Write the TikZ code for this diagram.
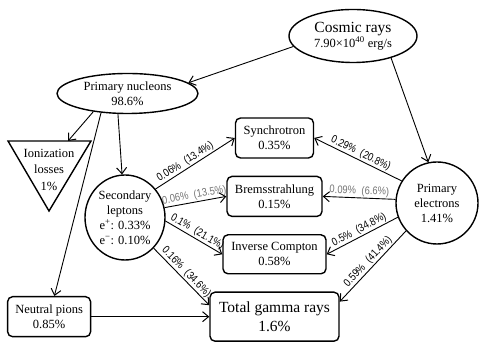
\documentclass[tikz,border=0pt]{standalone}
\usepackage{fontspec}
\setmainfont{Liberation Serif}
\newfontfamily\labfont[FakeStretch=0.85]{Liberation Sans}
\usetikzlibrary{shapes.geometric, arrows.meta, positioning}
\definecolor{labgray}{rgb}{0.45,0.45,0.45}

\begin{document}
\begin{tikzpicture}[
    x=1pt, y=1pt,
    node distance=17pt,
    box/.style={rectangle, rounded corners=5pt, draw, line width=1.4pt, minimum height=40pt, align=center, inner sep=2pt, font=\fontsize{12.5}{15}\selectfont},
    oval/.style={ellipse, draw, line width=1.4pt, align=center, inner sep=0pt, font=\fontsize{12.5}{15}\selectfont},
    flow/.style={draw, line width=0.9pt, -{Straight Barb[length=6pt,width=10pt,line width=1pt]}},
    lab/.style={font=\labfont\fontsize{11}{12}\selectfont, sloped, above, inner sep=1pt}
]
    \useasboundingbox (0,0) rectangle (485,344);

    \node[oval, minimum width=128pt, minimum height=53pt] (cosmic) at (353,308) {\fontsize{15.5}{17}\selectfont Cosmic rays\\7.90×10\textsuperscript{40} erg/s};
    \node[oval, minimum width=141pt, minimum height=40pt] (nucleons) at (127.5,250.5) {Primary nucleons\\98.6\%};
    \node[oval, minimum width=80pt, minimum height=85pt] (sec) at (125,126.5) {Secondary\\leptons\\e\textsuperscript{+}: 0.33\%\\e\textsuperscript{−}: 0.10\%};
    \node[oval, minimum width=82pt, minimum height=82pt] (electrons) at (437,141) {Primary\\electrons\\1.41\%};

    % ionization losses (triangle)
    \coordinate (ionL) at (8,203);
    \coordinate (ionR) at (91,203);
    \coordinate (ionB) at (49,133);
    \coordinate (iontop) at (68,203);
    \draw[line width=1.4pt, line join=miter] (ionL) -- (ionR) -- (ionB) -- cycle;
    \node[align=center, font=\fontsize{12.5}{16.5}\selectfont] (ion) at (49,174.5) {Ionization\\losses\\1\%};

    \node[box, minimum width=78pt] (synch) at (274.5,206) {Synchrotron\\0.35\%};
    \node[box, minimum width=95pt, below=of synch] (brems) {Bremsstrahlung\\0.15\%};
    \node[box, minimum width=103pt, minimum height=39pt, below=of brems] (ic) {Inverse Compton\\0.58\%};
    \node[box, minimum width=129pt, minimum height=49pt, below=of ic, font=\fontsize{15.5}{19}\selectfont] (total) {Total gamma rays\\1.6\%};
    \node[box, minimum width=83pt, left=118pt of total] (pions) {Neutral pions\\0.85\%};

    \draw[flow] (cosmic.190) -- (nucleons.10);
    \draw[flow] (cosmic.-30) -- (electrons.102);
    \draw[flow] (nucleons.-152) -- (iontop);
    \draw[flow] (nucleons.-115) -- (sec);
    \draw[flow] (nucleons.-144) -- (pions);
    \draw[flow] (pions.east) -- (pions.east -| total.west);

    % secondary leptons
    \draw[flow] (sec.43) -- node[lab, pos=0.42] {0.06\%\enspace(13.4\%)} (synch.west);
    \draw[flow] (sec.14) -- node[lab, text=labgray] {0.06\%\enspace(13.5\%)} (brems.west);
    \draw[flow] (sec.-5) -- node[lab] {0.1\%\enspace(21.1\%)} (ic.west);
    \draw[flow] (sec.-47) -- node[lab] {0.16\%\enspace(34.6\%)} (total.170);

    % primary electrons
    \draw[flow] (electrons.148) -- node[lab] {0.29\%\enspace(20.8\%)} (synch.east);
    \draw[flow] (electrons.175) -- node[lab, text=labgray] {0.09\%\enspace(6.6\%)} (brems.east);
    \draw[flow] (electrons.200) -- node[lab] {0.5\%\enspace(34.8\%)} (ic.east);
    \draw[flow] (electrons.222) -- node[lab] {0.59\%\enspace(41.4\%)} (total.13);
\end{tikzpicture}
\end{document}
